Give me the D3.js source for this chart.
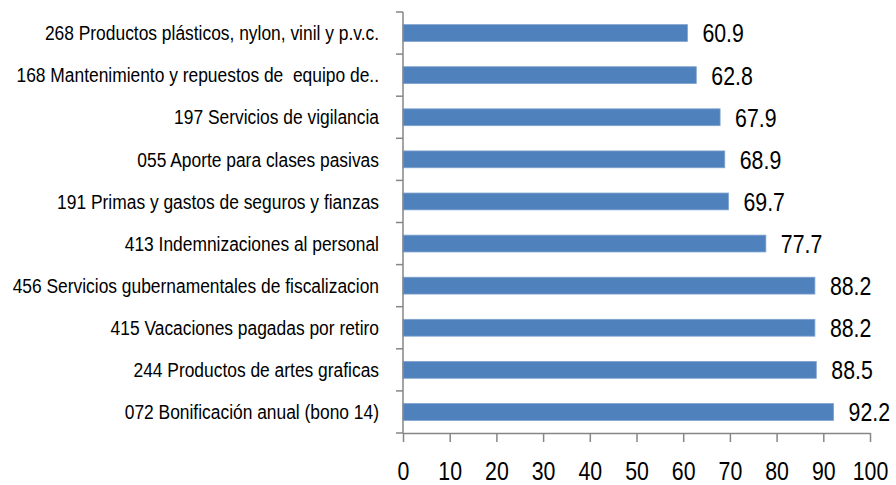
<!DOCTYPE html>
<html>
<head>
<meta charset="utf-8">
<script src="https://cdn.jsdelivr.net/npm/d3@7"></script>
<style>
  body { margin: 0; background: #fff; }
  text { font-family: "Liberation Sans", Arial, sans-serif; fill: #000; }
</style>
</head>
<body>
<script>
const categories = [
    "268 Productos plásticos, nylon, vinil y p.v.c.",
    "168 Mantenimiento y repuestos de  equipo de..",
    "197 Servicios de vigilancia",
    "055 Aporte para clases pasivas",
    "191 Primas y gastos de seguros y fianzas",
    "413 Indemnizaciones al personal",
    "456 Servicios gubernamentales de fiscalizacion",
    "415 Vacaciones pagadas por retiro",
    "244 Productos de artes graficas",
    "072 Bonificación anual (bono 14)"
]
const values = [60.9, 62.8, 67.9, 68.9, 69.7, 77.7, 88.2, 88.2, 88.5, 92.2]
const xTicks = [0, 10, 20, 30, 40, 50, 60, 70, 80, 90, 100]

const svgWidth = 896
const svgHeight = 485
const plotLeft = 403
const plotRight = 870
const plotTop = 12
const plotBottom = 433

// the original uses a narrow font, so squeeze the text horizontally
const narrow = 0.82
const labelNarrow = 0.87

const svg = d3.select("body").append("svg")
    .attr("width", svgWidth)
    .attr("height", svgHeight)

const xScale = d3.scaleLinear()
    .domain([0, 100])
    .range([plotLeft, plotRight])

const yScale = d3.scaleBand()
    .domain(categories)
    .range([plotTop, plotBottom])
    .paddingInner(0.6)
    .paddingOuter(0.3)

/* bars */
svg.selectAll("rect.bar")
    .data(values)
    .enter()
    .append("rect")
    .attr("class", "bar")
    .attr("x", xScale(0))
    .attr("y", (d, i) => yScale(categories[i]))
    .attr("width", (d) => xScale(d) - xScale(0))
    .attr("height", yScale.bandwidth())
    .attr("fill", "#4F81BD")
    .attr("stroke", "#7FA2CE")
    .attr("stroke-width", 0.8)

/* value labels */
svg.selectAll("text.value")
    .data(values)
    .enter()
    .append("text")
    .attr("class", "value")
    .attr("transform", (d, i) => `translate(${xScale(d) + 15}, ${yScale(categories[i]) + yScale.bandwidth() / 2}) scale(${narrow}, 1)`)
    .attr("dy", "0.36em")
    .style("font-size", "26px")
    .text((d) => d.toFixed(1))

/* y axis */
const yAxisGroup = svg.append("g")
const step = (plotBottom - plotTop) / categories.length
const yTicks = d3.range(categories.length + 1).map((i) => plotTop + i * step)

yAxisGroup.append("line")
    .attr("x1", plotLeft).attr("x2", plotLeft)
    .attr("y1", plotTop).attr("y2", plotBottom)
    .attr("stroke", "#868686")
    .attr("stroke-width", 1.5)

yAxisGroup.selectAll("line.tick")
    .data(yTicks)
    .enter()
    .append("line")
    .attr("class", "tick")
    .attr("x1", plotLeft - 7).attr("x2", plotLeft)
    .attr("y1", (d) => d).attr("y2", (d) => d)
    .attr("stroke", "#868686")
    .attr("stroke-width", 1.5)

yAxisGroup.selectAll("text")
    .data(categories)
    .enter()
    .append("text")
    .attr("transform", (d) => `translate(379, ${yScale(d) + yScale.bandwidth() / 2}) scale(${labelNarrow}, 1)`)
    .attr("dy", "0.36em")
    .attr("text-anchor", "end")
    .attr("xml:space", "preserve")
    .style("white-space", "pre")
    .style("font-size", "20px")
    .text((d) => d)

/* x axis */
const xAxis = d3.axisBottom(xScale)
    .tickValues(xTicks)
    .tickSize(9)
    .tickSizeOuter(0)

const xAxisGroup = svg.append("g")
    .attr("transform", `translate(0, ${plotBottom})`)
    .call(xAxis)

xAxisGroup.select(".domain").attr("stroke", "#868686").attr("stroke-width", 1.5)
xAxisGroup.selectAll(".tick line").attr("stroke", "#868686").attr("stroke-width", 1.5)
xAxisGroup.selectAll(".tick text")
    .attr("y", 47)
    .attr("dy", 0)
    .attr("transform", `scale(${narrow}, 1)`)
    .style("font-size", "26px")
    .style("font-family", "\"Liberation Sans\", Arial, sans-serif")
    .attr("fill", "#000")
</script>
</body>
</html>
